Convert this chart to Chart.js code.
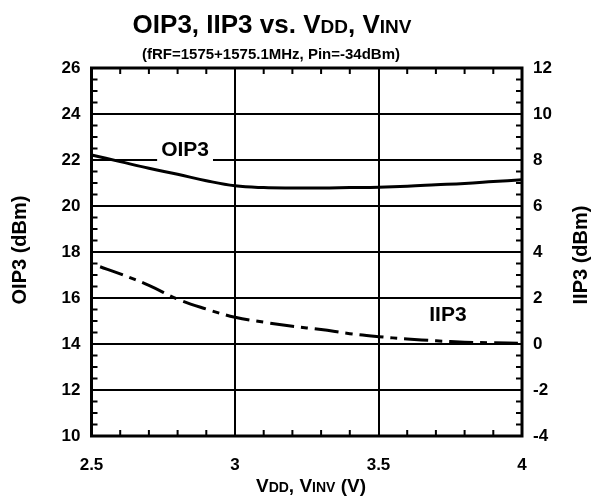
<!DOCTYPE html>
<html>
<head>
<meta charset="utf-8">
<script src="https://cdn.jsdelivr.net/npm/chart.js@4.4.1/dist/chart.umd.min.js"></script>
<style>
html,body{margin:0;padding:0;background:#fff;}
canvas{display:block;}
</style>
</head>
<body>
<canvas id="c" width="594" height="502"></canvas>
<script>
// ---- data ----
const vddOIP3 = [2.5, 2.6, 2.7, 2.8, 2.9, 3.0, 3.1, 3.2, 3.3, 3.4, 3.5, 3.6, 3.7, 3.8, 3.9, 4.0];
const oip3 = [22.22, 21.93, 21.64, 21.38, 21.10, 20.88, 20.80, 20.78, 20.78, 20.80, 20.82, 20.86, 20.92, 20.98, 21.06, 21.14];
const vddIIP3 = [2.53, 2.6, 2.7, 2.8, 2.9, 3.0, 3.1, 3.2, 3.3, 3.4, 3.5, 3.6, 3.7, 3.8, 3.9, 4.0];
const iip3 = [3.36, 3.05, 2.55, 1.95, 1.52, 1.16, 0.95, 0.77, 0.63, 0.45, 0.32, 0.22, 0.14, 0.08, 0.05, 0.03];
const xTicks = [2.5, 3, 3.5, 4];
const yLeftTicks = [10, 12, 14, 16, 18, 20, 22, 24, 26];
const yRightTicks = [-4, -2, 0, 2, 4, 6, 8, 10, 12];

const FONT = '"Liberation Sans", Arial, Helvetica, sans-serif';

function pts(xs, ys){ return xs.map((x,i)=>({x:x, y:ys[i]})); }

function drawMixed(ctx, parts, cx, cy){
  let w = 0;
  parts.forEach(p=>{ ctx.font = 'bold ' + p[1] + 'px ' + FONT; w += ctx.measureText(p[0]).width; });
  let x = cx - w/2;
  ctx.textAlign = 'left';
  ctx.textBaseline = 'alphabetic';
  parts.forEach(p=>{ ctx.font = 'bold ' + p[1] + 'px ' + FONT; ctx.fillText(p[0], x, cy); x += ctx.measureText(p[0]).width; });
}

const decor = {
  id: 'decor',
  beforeDatasetsDraw(chart){
    const ctx = chart.ctx;
    const xs = chart.scales.x, yl = chart.scales.y;
    ctx.save();
    const lx = xs.getPixelForValue(2.826), ly = yl.getPixelForValue(22.43);
    ctx.font = 'bold 21px ' + FONT;
    const tw = ctx.measureText('OIP3').width;
    ctx.fillStyle = '#fff';
    ctx.fillRect(lx - tw/2 - 4, ly - 11, tw + 8, 23);
    ctx.restore();
  },
  afterDraw(chart){
    const ctx = chart.ctx;
    const a = chart.chartArea;
    const xs = chart.scales.x, yl = chart.scales.y, yr = chart.scales.y2;
    ctx.save();
    ctx.strokeStyle = '#000';
    ctx.fillStyle = '#000';
    ctx.lineWidth = 2;
    ctx.beginPath();
    for (let v = 2.6; v < 3.95; v += 0.1){
      const r = Math.round(v*10)/10;
      if (Math.abs(r*2 - Math.round(r*2)) < 1e-6) continue;
      const px = xs.getPixelForValue(r);
      ctx.moveTo(px, a.bottom); ctx.lineTo(px, a.bottom - 6);
      ctx.moveTo(px, a.top); ctx.lineTo(px, a.top + 6);
    }
    for (let v = 10.5; v < 26; v += 0.5){
      if (Math.abs(v/2 - Math.round(v/2)) < 1e-6) continue;
      const py = yl.getPixelForValue(v);
      ctx.moveTo(a.left, py); ctx.lineTo(a.left + 6, py);
    }
    for (let v = -3.5; v < 12; v += 0.5){
      if (Math.abs(v/2 - Math.round(v/2)) < 1e-6) continue;
      const py = yr.getPixelForValue(v);
      ctx.moveTo(a.right, py); ctx.lineTo(a.right - 6, py);
    }
    ctx.stroke();
    ctx.lineWidth = 3;
    ctx.strokeRect(a.left, a.top, a.right - a.left, a.bottom - a.top);

    ctx.font = 'bold 21px ' + FONT;
    ctx.textAlign = 'center';
    ctx.textBaseline = 'middle';
    ctx.fillText('OIP3', xs.getPixelForValue(2.826), yl.getPixelForValue(22.43));
    ctx.fillText('IIP3', xs.getPixelForValue(3.742), yl.getPixelForValue(15.26));

    drawMixed(ctx, [['OIP3, IIP3 vs. V',26],['DD',19],[', V',26],['INV',19]], 272, 33);
    drawMixed(ctx, [['(fRF=1575+1575.1MHz, Pin=-34dBm)',15]], 271, 59);
    drawMixed(ctx, [['V',19],['DD',14],[', V',19],['INV',14],[' (V)',19]], 311, 492);

    ctx.save();
    ctx.translate(26, 250);
    ctx.rotate(-Math.PI/2);
    drawMixed(ctx, [['OIP3 (dBm)',20]], 0, 0);
    ctx.restore();
    ctx.save();
    ctx.translate(587, 255);
    ctx.rotate(-Math.PI/2);
    drawMixed(ctx, [['IIP3 (dBm)',20]], 0, 0);
    ctx.restore();
    ctx.restore();
  }
};

new Chart(document.getElementById('c'), {
  type: 'line',
  data: {
    datasets: [
      { label: 'OIP3', data: pts(vddOIP3, oip3), yAxisID: 'y', borderColor: '#000', borderWidth: 3,
        pointRadius: 0, tension: 0.4, fill: false },
      { label: 'IIP3', data: pts(vddIIP3, iip3), yAxisID: 'y2', borderColor: '#000', borderWidth: 3,
        borderDash: [24, 7, 7, 7], pointRadius: 0, tension: 0.4, fill: false }
    ]
  },
  options: {
    responsive: false,
    animation: false,
    devicePixelRatio: 1,
    layout: { padding: { top: 68, left: 0, right: 0, bottom: 0 } },
    plugins: { legend: { display: false }, title: { display: false }, tooltip: { enabled: false } },
    scales: {
      x: {
        type: 'linear', min: 2.5, max: 4,
        afterBuildTicks(s){ s.ticks = xTicks.map(v=>({value:v})); },
        afterFit(s){ s.height = 66; },
        grid: { color: '#000', lineWidth: 2, drawTicks: false },
        border: { display: false },
        ticks: { color: '#000', padding: 19, font: { family: FONT, weight: 'bold', size: 17 },
          callback: v => String(v), maxRotation: 0, autoSkip: false }
      },
      y: {
        type: 'linear', position: 'left', min: 10, max: 26,
        afterBuildTicks(s){ s.ticks = yLeftTicks.map(v=>({value:v})); },
        afterFit(s){ s.width = 91.5; },
        grid: { color: '#000', lineWidth: 2, drawTicks: false },
        border: { display: false },
        ticks: { color: '#000', padding: 11, font: { family: FONT, weight: 'bold', size: 17 }, autoSkip: false }
      },
      y2: {
        type: 'linear', position: 'right', min: -4, max: 12,
        afterBuildTicks(s){ s.ticks = yRightTicks.map(v=>({value:v})); },
        afterFit(s){ s.width = 72; },
        grid: { display: false, drawTicks: false },
        border: { display: false },
        ticks: { color: '#000', padding: 11, font: { family: FONT, weight: 'bold', size: 17 }, autoSkip: false }
      }
    }
  },
  plugins: [decor]
});
</script>
</body>
</html>
